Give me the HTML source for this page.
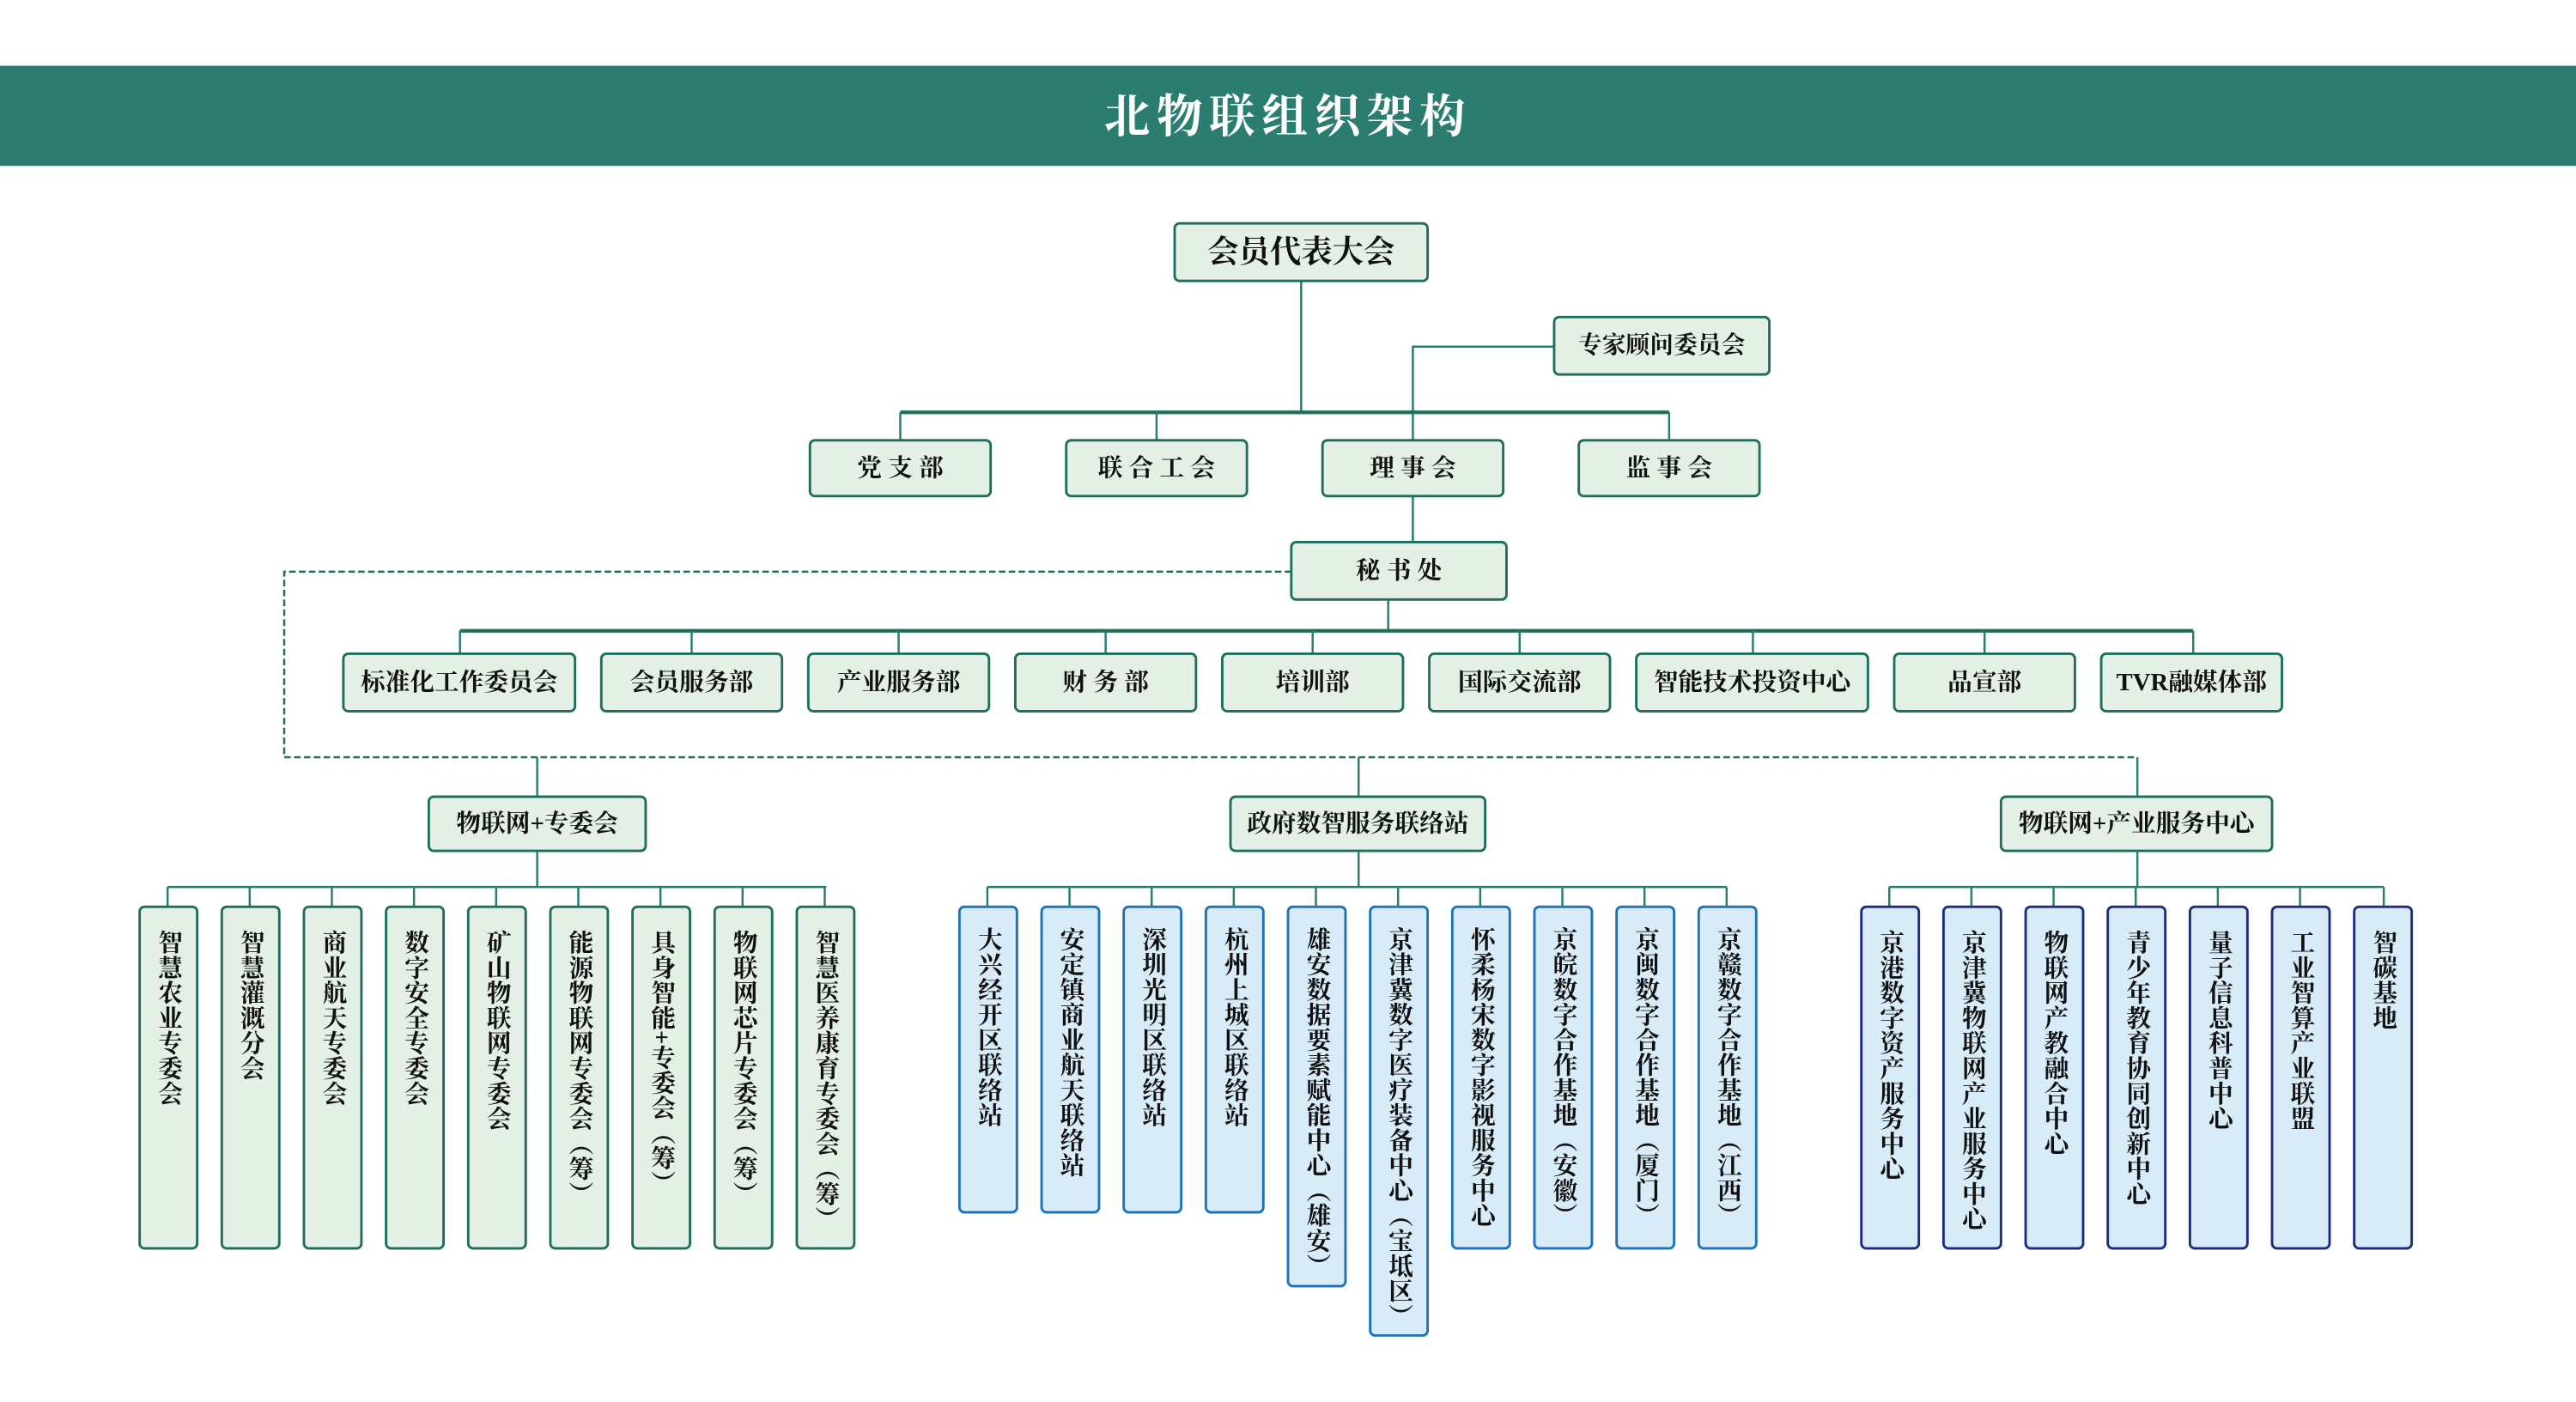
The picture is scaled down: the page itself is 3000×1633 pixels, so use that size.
<!DOCTYPE html>
<html><head><meta charset="utf-8"><style>
html,body{margin:0;padding:0;background:#fff}
svg{display:block}
text{font-family:"Liberation Serif","Noto Serif CJK SC",serif;font-weight:bold;fill:#111}
.v{writing-mode:vertical-rl;font-size:15px;letter-spacing:0.3px}
.g{fill:#e4efe6;stroke:#1f6e5c;stroke-width:1.5}
.b{fill:#d8ebf9;stroke:#1c72b8;stroke-width:1.5}
.n{fill:#d8ebf9;stroke:#1c2a80;stroke-width:1.5}
.l{stroke:#2a7d6f;stroke-width:1.3;fill:none}
.t{stroke:#1f6e5c;stroke-width:2.2;fill:none}
.h{text-anchor:middle;dominant-baseline:central}
</style></head><body>
<svg width="3000" height="1633" viewBox="0 0 1568 853.5" xmlns="http://www.w3.org/2000/svg">
<rect x="0" y="40" width="1568" height="61" fill="#2a7d6f"/>
<text x="784" y="71" class="h" style="fill:#fff;font-size:28px;letter-spacing:4px">北物联组织架构</text>

<line class="l" x1="792" y1="171" x2="792" y2="251"/>
<polyline class="l" points="946,211 860,211 860,268"/>
<line class="t" x1="548" y1="251" x2="1016" y2="251"/>
<line class="l" x1="548" y1="251" x2="548" y2="268"/>
<line class="l" x1="704" y1="251" x2="704" y2="268"/>
<line class="l" x1="1016" y1="251" x2="1016" y2="268"/>
<line class="l" x1="860" y1="302" x2="860" y2="330"/>
<line class="l" x1="845" y1="365" x2="845" y2="384"/>
<line class="t" x1="280" y1="384" x2="1335" y2="384"/>
<g class="l">
<line x1="280" y1="384" x2="280" y2="398"/><line x1="421" y1="384" x2="421" y2="398"/>
<line x1="547" y1="384" x2="547" y2="398"/><line x1="673" y1="384" x2="673" y2="398"/>
<line x1="799" y1="384" x2="799" y2="398"/><line x1="925" y1="384" x2="925" y2="398"/>
<line x1="1067" y1="384" x2="1067" y2="398"/><line x1="1208" y1="384" x2="1208" y2="398"/>
<line x1="1335" y1="384" x2="1335" y2="398"/>
</g>
<polyline points="786,348 173,348 173,461 1301,461" fill="none" stroke="#1f6e5c" stroke-width="1.3" stroke-dasharray="4,2"/>
<line class="l" x1="327" y1="461" x2="327" y2="485"/>
<line class="l" x1="827" y1="461" x2="827" y2="485"/>
<line class="l" x1="1301" y1="461" x2="1301" y2="485"/>

<rect class="g" x="715" y="136" width="154" height="35" rx="3"/>
<text x="792" y="153.5" class="h" style="font-size:19px">会员代表大会</text>
<rect class="g" x="946" y="193" width="131" height="35" rx="3"/>
<text x="1011.5" y="210.5" class="h" style="font-size:14.5px">专家顾问委员会</text>

<g style="font-size:15px">
<rect class="g" x="493" y="268" width="110" height="34" rx="3"/><text x="548" y="285" class="h">党 支 部</text>
<rect class="g" x="649" y="268" width="110" height="34" rx="3"/><text x="704" y="285" class="h">联 合 工 会</text>
<rect class="g" x="805" y="268" width="110" height="34" rx="3"/><text x="860" y="285" class="h">理 事 会</text>
<rect class="g" x="961" y="268" width="110" height="34" rx="3"/><text x="1016" y="285" class="h">监 事 会</text>
<rect class="g" x="786" y="330" width="131" height="35" rx="3"/><text x="851.5" y="347.5" class="h">秘 书 处</text>

<rect class="g" x="209" y="398" width="141" height="35" rx="3"/><text x="279.5" y="415.5" class="h">标准化工作委员会</text>
<rect class="g" x="366" y="398" width="110" height="35" rx="3"/><text x="421" y="415.5" class="h">会员服务部</text>
<rect class="g" x="492" y="398" width="110" height="35" rx="3"/><text x="547" y="415.5" class="h">产业服务部</text>
<rect class="g" x="618" y="398" width="110" height="35" rx="3"/><text x="673" y="415.5" class="h">财 务 部</text>
<rect class="g" x="744" y="398" width="110" height="35" rx="3"/><text x="799" y="415.5" class="h">培训部</text>
<rect class="g" x="870" y="398" width="110" height="35" rx="3"/><text x="925" y="415.5" class="h">国际交流部</text>
<rect class="g" x="996" y="398" width="141" height="35" rx="3"/><text x="1066.5" y="415.5" class="h">智能技术投资中心</text>
<rect class="g" x="1153" y="398" width="110" height="35" rx="3"/><text x="1208" y="415.5" class="h">品宣部</text>
<rect class="g" x="1279" y="398" width="110" height="35" rx="3"/><text x="1334" y="415.5" class="h">TVR融媒体部</text>

<rect class="g" x="261" y="485" width="132" height="33" rx="3"/><text x="327" y="501.5" class="h">物联网+专委会</text>
<rect class="g" x="749" y="485" width="155" height="33" rx="3"/><text x="826.5" y="501.5" class="h">政府数智服务联络站</text>
<rect class="g" x="1218" y="485" width="165" height="33" rx="3"/><text x="1300.5" y="501.5" class="h">物联网+产业服务中心</text>
</g>

<line class="l" x1="327" y1="518" x2="327" y2="540"/>
<line class="l" x1="102" y1="540" x2="503" y2="540"/>
<line class="l" x1="827" y1="518" x2="827" y2="540"/>
<line class="l" x1="601" y1="540" x2="1051" y2="540"/>
<line class="l" x1="1301" y1="518" x2="1301" y2="540"/>
<line class="l" x1="1150" y1="540" x2="1451" y2="540"/>
<g class="l">
<line x1="102" y1="540" x2="102" y2="552"/><line x1="152" y1="540" x2="152" y2="552"/><line x1="202" y1="540" x2="202" y2="552"/>
<line x1="252" y1="540" x2="252" y2="552"/><line x1="302" y1="540" x2="302" y2="552"/><line x1="352" y1="540" x2="352" y2="552"/>
<line x1="402" y1="540" x2="402" y2="552"/><line x1="452" y1="540" x2="452" y2="552"/><line x1="502" y1="540" x2="502" y2="552"/>
<line x1="601" y1="540" x2="601" y2="552"/><line x1="651" y1="540" x2="651" y2="552"/><line x1="701" y1="540" x2="701" y2="552"/>
<line x1="751" y1="540" x2="751" y2="552"/><line x1="801" y1="540" x2="801" y2="552"/><line x1="851" y1="540" x2="851" y2="552"/>
<line x1="901" y1="540" x2="901" y2="552"/><line x1="951" y1="540" x2="951" y2="552"/><line x1="1001" y1="540" x2="1001" y2="552"/>
<line x1="1051" y1="540" x2="1051" y2="552"/>
<line x1="1150" y1="540" x2="1150" y2="552"/><line x1="1200" y1="540" x2="1200" y2="552"/><line x1="1250" y1="540" x2="1250" y2="552"/>
<line x1="1300" y1="540" x2="1300" y2="552"/><line x1="1350" y1="540" x2="1350" y2="552"/><line x1="1400" y1="540" x2="1400" y2="552"/>
<line x1="1451" y1="540" x2="1451" y2="552"/>
</g>

<g>
<rect class="g" x="85" y="552" width="35" height="208" rx="3"/><text class="v" x="102.5" y="566">智慧农业专委会</text>
<rect class="g" x="135" y="552" width="35" height="208" rx="3"/><text class="v" x="152.5" y="566">智慧灌溉分会</text>
<rect class="g" x="185" y="552" width="35" height="208" rx="3"/><text class="v" x="202.5" y="566">商业航天专委会</text>
<rect class="g" x="235" y="552" width="35" height="208" rx="3"/><text class="v" x="252.5" y="566">数字安全专委会</text>
<rect class="g" x="285" y="552" width="35" height="208" rx="3"/><text class="v" x="302.5" y="566">矿山物联网专委会</text>
<rect class="g" x="335" y="552" width="35" height="208" rx="3"/><text class="v" x="352.5" y="566">能源物联网专委会（筹）</text>
<rect class="g" x="385" y="552" width="35" height="208" rx="3"/><text class="v" x="402.5" y="566">具身智能+专委会（筹）</text>
<rect class="g" x="435" y="552" width="35" height="208" rx="3"/><text class="v" x="452.5" y="566">物联网芯片专委会（筹）</text>
<rect class="g" x="485" y="552" width="35" height="208" rx="3"/><text class="v" x="502.5" y="566">智慧医养康育专委会（筹）</text>
</g>

<g>
<rect class="b" x="584" y="552" width="35" height="186" rx="3"/><text class="v" x="601.5" y="564">大兴经开区联络站</text>
<rect class="b" x="634" y="552" width="35" height="186" rx="3"/><text class="v" x="651.5" y="564">安定镇商业航天联络站</text>
<rect class="b" x="684" y="552" width="35" height="186" rx="3"/><text class="v" x="701.5" y="564">深圳光明区联络站</text>
<rect class="b" x="734" y="552" width="35" height="186" rx="3"/><text class="v" x="751.5" y="564">杭州上城区联络站</text>
<rect class="b" x="784" y="552" width="35" height="231" rx="3"/><text class="v" x="801.5" y="564">雄安数据要素赋能中心（雄安）</text>
<rect class="b" x="834" y="552" width="35" height="261" rx="3"/><text class="v" x="851.5" y="564">京津冀数字医疗装备中心（宝坻区）</text>
<rect class="b" x="884" y="552" width="35" height="208" rx="3"/><text class="v" x="901.5" y="564">怀柔杨宋数字影视服务中心</text>
<rect class="b" x="934" y="552" width="35" height="208" rx="3"/><text class="v" x="951.5" y="564">京皖数字合作基地（安徽）</text>
<rect class="b" x="984" y="552" width="35" height="208" rx="3"/><text class="v" x="1001.5" y="564">京闽数字合作基地（厦门）</text>
<rect class="b" x="1034" y="552" width="35" height="208" rx="3"/><text class="v" x="1051.5" y="564">京赣数字合作基地（江西）</text>
</g>

<g>
<rect class="n" x="1133" y="552" width="35" height="208" rx="3"/><text class="v" x="1150.5" y="566">京港数字资产服务中心</text>
<rect class="n" x="1183" y="552" width="35" height="208" rx="3"/><text class="v" x="1200.5" y="566">京津冀物联网产业服务中心</text>
<rect class="n" x="1233" y="552" width="35" height="208" rx="3"/><text class="v" x="1250.5" y="566">物联网产教融合中心</text>
<rect class="n" x="1283" y="552" width="35" height="208" rx="3"/><text class="v" x="1300.5" y="566">青少年教育协同创新中心</text>
<rect class="n" x="1333" y="552" width="35" height="208" rx="3"/><text class="v" x="1350.5" y="566">量子信息科普中心</text>
<rect class="n" x="1383" y="552" width="35" height="208" rx="3"/><text class="v" x="1400.5" y="566">工业智算产业联盟</text>
<rect class="n" x="1433" y="552" width="35" height="208" rx="3"/><text class="v" x="1450.5" y="566">智碳基地</text>
</g>
</svg>
</body></html>
